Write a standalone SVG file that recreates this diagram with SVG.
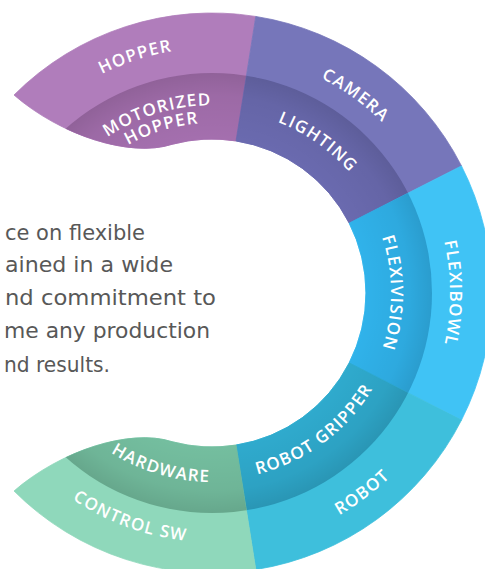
<svg xmlns="http://www.w3.org/2000/svg" width="485" height="569" viewBox="0 0 485 569">
<style>
.lbl{font-family:"Open Sans","DejaVu Sans",sans-serif;font-size:17px;font-weight:600;fill:#ffffff;letter-spacing:1.2px;text-anchor:middle}
.body{font-family:"DejaVu Sans",sans-serif;font-size:21px;fill:#585858}
.o{stroke-width:0.8}
</style>
<defs>
<clipPath id="mid"><circle cx="212" cy="293" r="220"/></clipPath>
<radialGradient id="shade" gradientUnits="userSpaceOnUse" cx="212" cy="293" r="220">
<stop offset="0.7" stop-color="#000" stop-opacity="0"/>
<stop offset="0.9" stop-color="#000" stop-opacity="0.05"/>
<stop offset="1" stop-color="#000" stop-opacity="0.12"/>
</radialGradient>
<path id="s-top" d="M14.01,95.01 A280,280 0 0 1 255.80,16.45 L236.09,140.90 A154,154 0 0 0 172.14,144.25 C130,158 60,135 14.01,95.01 Z"/>
<path id="s-cam" d="M255.80,16.45 A280,280 0 0 1 461.48,165.88 L349.22,223.09 A154,154 0 0 0 236.09,140.90 Z"/>
<path id="s-flex" d="M461.48,165.88 A280,280 0 0 1 461.48,420.12 L349.22,362.91 A154,154 0 0 0 349.22,223.09 Z"/>
<path id="s-rob" d="M461.48,420.12 A280,280 0 0 1 255.80,569.55 L236.09,445.10 A154,154 0 0 0 349.22,362.91 Z"/>
<path id="s-bot" d="M255.80,569.55 A280,280 0 0 1 14.01,490.99 C60,451 130,428 172.14,441.75 A154,154 0 0 0 236.09,445.10 Z"/>
<path id="p-hopper" d="M4.23,163.17 A245,245 0 0 1 303.78,65.84"/>
<path id="p-motor" d="M54.33,190.61 A189,189 0 0 1 285.46,119.95"/>
<path id="p-hopper2" d="M69.43,200.41 A170,170 0 0 1 278.42,136.51"/>
<path id="p-camera" d="M195.19,52.59 A241,241 0 0 1 445.84,234.70"/>
<path id="p-lighting" d="M196.05,110.70 A183,183 0 0 1 388.76,245.64"/>
<path id="p-flexibowl" d="M394.32,140.02 A238,238 0 0 1 394.32,445.98"/>
<path id="p-flexivision" d="M349.12,177.94 A179,179 0 0 1 349.12,408.06"/>
<path id="p-gripper" d="M201.24,479.69 A187,187 0 0 0 393.98,336.02"/>
<path id="p-robot" d="M198.60,548.65 A256,256 0 0 0 461.44,350.59"/>
<path id="p-hardware" d="M54.40,397.32 A189,189 0 0 0 287.36,466.32"/>
<path id="p-control" d="M-3.64,417.5 A249,249 0 0 0 297.16,526.98"/>
</defs>

<g id="text-block" class="body">
<text x="5" y="240" textLength="140" lengthAdjust="spacingAndGlyphs">ce on flexible</text>
<text x="5" y="272" textLength="168" lengthAdjust="spacingAndGlyphs">ained in a wide</text>
<text x="5" y="305" textLength="211" lengthAdjust="spacingAndGlyphs">nd commitment to</text>
<text x="4" y="338" textLength="206" lengthAdjust="spacingAndGlyphs">me any production</text>
<text x="4" y="372" textLength="106" lengthAdjust="spacingAndGlyphs">nd results.</text>
</g>

<g id="hopper">
<use href="#s-top" class="o" fill="#b07dbb" stroke="#b07dbb"/>
<text class="lbl"><textPath href="#p-hopper" startOffset="50%">HOPPER</textPath></text>
</g>
<g id="camera">
<use href="#s-cam" class="o" fill="#7676ba" stroke="#7676ba"/>
<text class="lbl"><textPath href="#p-camera" startOffset="50%">CAMERA</textPath></text>
</g>
<g id="flexibowl">
<use href="#s-flex" class="o" fill="#40c3f5" stroke="#40c3f5"/>
<text class="lbl"><textPath href="#p-flexibowl" startOffset="50%">FLEXIBOWL</textPath></text>
</g>
<g id="robot">
<use href="#s-rob" class="o" fill="#3ebfdc" stroke="#3ebfdc"/>
<text class="lbl"><textPath href="#p-robot" startOffset="50%">ROBOT</textPath></text>
</g>
<g id="control-sw">
<use href="#s-bot" class="o" fill="#8fd8bb" stroke="#8fd8bb"/>
<text class="lbl"><textPath href="#p-control" startOffset="50%">CONTROL SW</textPath></text>
</g>

<g id="motorized-hopper">
<g clip-path="url(#mid)">
<use href="#s-top" class="o" fill="#a46fae" stroke="#a46fae"/>
<use href="#s-top" fill="url(#shade)"/>
</g>
<text class="lbl"><textPath href="#p-motor" startOffset="50%">MOTORIZED</textPath></text>
<text class="lbl"><textPath href="#p-hopper2" startOffset="50%">HOPPER</textPath></text>
</g>
<g id="lighting">
<g clip-path="url(#mid)">
<use href="#s-cam" class="o" fill="#6a6aaf" stroke="#6a6aaf"/>
<use href="#s-cam" fill="url(#shade)"/>
</g>
<text class="lbl"><textPath href="#p-lighting" startOffset="50%">LIGHTING</textPath></text>
</g>
<g id="flexivision">
<g clip-path="url(#mid)">
<use href="#s-flex" class="o" fill="#30b2ea" stroke="#30b2ea"/>
<use href="#s-flex" fill="url(#shade)"/>
</g>
<text class="lbl"><textPath href="#p-flexivision" startOffset="50%">FLEXIVISION</textPath></text>
</g>
<g id="robot-gripper">
<g clip-path="url(#mid)">
<use href="#s-rob" class="o" fill="#2faacd" stroke="#2faacd"/>
<use href="#s-rob" fill="url(#shade)"/>
</g>
<text class="lbl"><textPath href="#p-gripper" startOffset="50%">ROBOT GRIPPER</textPath></text>
</g>
<g id="hardware">
<g clip-path="url(#mid)">
<use href="#s-bot" class="o" fill="#74be9f" stroke="#74be9f"/>
<use href="#s-bot" fill="url(#shade)"/>
</g>
<text class="lbl"><textPath href="#p-hardware" startOffset="50%">HARDWARE</textPath></text>
</g>

<g id="connectors"></g>
</svg>
